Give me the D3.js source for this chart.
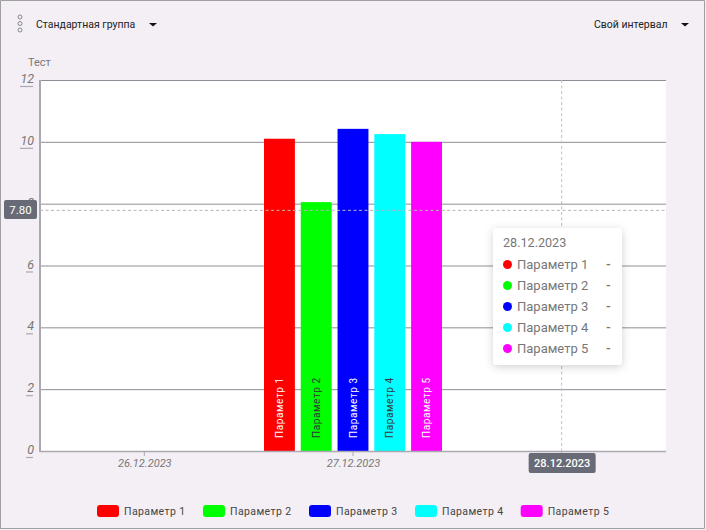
<!DOCTYPE html>
<html>
<head>
<meta charset="utf-8">
<script src="https://d3js.org/d3.v7.min.js"></script>
<style>
  html, body { margin: 0; padding: 0; background: #fff; overflow: hidden; }
  svg { display: block; }
  text { font-family: Roboto, sans-serif; }
</style>
</head>
<body>
<svg id="chart" width="706" height="530"></svg>
<script>
const dates = ['26.12.2023', '27.12.2023', '28.12.2023']
const params = ['Параметр 1', 'Параметр 2', 'Параметр 3', 'Параметр 4', 'Параметр 5']
const colors = ['#ff0000', '#00ff00', '#0000ff', '#00ffff', '#ff00ff']
const labelColors = ['#fff', '#333', '#fff', '#333', '#fff']
const barDate = '27.12.2023'
const barValues = [10.1, 8.05, 10.42, 10.25, 10.0]
const yTicks = [0, 2, 4, 6, 8, 10, 12]
const cursorValue = 7.8
const cursorDate = '28.12.2023'

const svg = d3.select('#chart')
const plotLeft = 40, plotRight = 666, plotTop = 80, plotBottom = 451

const x = d3.scaleBand().domain(dates).range([plotLeft, plotRight])
const inner = d3.scaleBand().domain(params).range([-89, 89]).paddingInner(0.16)
const y = d3.scaleLinear().domain([0, 12]).range([plotBottom, plotTop])

// фон
svg.append('rect').attr('width', 706).attr('height', 530).attr('fill', '#f3eff5')
svg.append('path')
  .attr('d', 'M0.5,529V0.5H704.5V528.5H0.5')
  .attr('fill', 'none').attr('stroke', '#a0a0a0').attr('stroke-width', 1)
svg.append('rect')
  .attr('x', plotLeft).attr('y', plotTop).attr('width', plotRight - plotLeft).attr('height', plotBottom - plotTop)
  .attr('fill', '#fff')

// шапка
svg.append('g').selectAll('circle').data([0, 1, 2]).join('circle')
  .attr('cx', 20).attr('cy', (d) => 17 + d * 6.5).attr('r', 2)
  .attr('fill', 'none').attr('stroke', '#888').attr('stroke-width', 1)
svg.append('text').attr('x', 36).attr('y', 28).attr('font-size', 10.5).attr('fill', '#222').text('Стандартная группа')
svg.append('path').attr('d', 'M149,23h8l-4,3.5z').attr('fill', '#111')
svg.append('text').attr('x', 594).attr('y', 28).attr('font-size', 10.5).attr('fill', '#222').text('Свой интервал')
svg.append('path').attr('d', 'M681,23h8l-4,3.5z').attr('fill', '#111')
svg.append('text').attr('x', 28).attr('y', 66).attr('font-size', 11).attr('fill', '#777').text('Тест')

// сетка
svg.append('g').selectAll('line').data(yTicks.filter((d) => d > 0)).join('line')
  .attr('x1', plotLeft).attr('x2', plotRight)
  .attr('y1', (d) => y(d) + 0.5).attr('y2', (d) => y(d) + 0.5)
  .attr('stroke', '#8f8d96').attr('stroke-width', 1)

// столбцы
const group = svg.append('g').attr('transform', `translate(${x(barDate) + x.bandwidth() / 2},0)`)
group.selectAll('rect').data(barValues).join('rect')
  .attr('x', (d, i) => inner(params[i]))
  .attr('y', (d) => y(d))
  .attr('width', inner.bandwidth())
  .attr('height', (d) => y(0) - y(d))
  .attr('fill', (d, i) => colors[i])
group.selectAll('text').data(barValues).join('text')
  .attr('transform', (d, i) => `translate(${inner(params[i]) + inner.bandwidth() / 2 + 3.5},${plotBottom - 13}) rotate(-90)`)
  .attr('font-size', 10).attr('letter-spacing', 0.6)
  .attr('fill', (d, i) => labelColors[i])
  .text((d, i) => params[i])

// оси
const yAxis = svg.append('g').attr('transform', `translate(${plotLeft},0)`)
yAxis.append('line').attr('y1', plotTop).attr('y2', plotBottom + 1).attr('stroke', '#aaa8b0').attr('stroke-width', 2)
const yTick = yAxis.selectAll('g').data(yTicks).join('g').attr('transform', (d) => `translate(0,${y(d)})`)
// черта под подписью - по ширине текста
yTick.append('line').attr('x1', (d) => (d >= 10 ? -20 : -14)).attr('x2', -7).attr('y1', 6.5).attr('y2', 6.5)
  .attr('stroke', '#aaa8b0').attr('stroke-width', 1.2)
yTick.append('text').attr('x', -6).attr('y', 3).attr('text-anchor', 'end')
  .attr('font-size', 12.5).attr('font-style', 'italic').attr('fill', '#777').text((d) => d)

const xAxis = svg.append('g')
xAxis.append('line').attr('x1', plotLeft).attr('x2', plotRight).attr('y1', plotBottom + 0.5).attr('y2', plotBottom + 0.5)
  .attr('stroke', '#aaa8b0').attr('stroke-width', 1.5)
const xTick = xAxis.selectAll('g').data(dates).join('g')
  .attr('transform', (d) => `translate(${x(d) + x.bandwidth() / 2},0)`)
xTick.append('line').attr('y1', plotBottom).attr('y2', plotBottom + 5).attr('stroke', '#aaa8b0')
xTick.append('text').attr('x', 0.5).attr('y', plotBottom + 16).attr('text-anchor', 'middle')
  .attr('font-size', 11).attr('font-style', 'italic').attr('fill', '#777').text((d) => d)

// перекрестие
const cx = x(cursorDate) + x.bandwidth() / 2
svg.append('line').attr('x1', plotLeft).attr('x2', plotRight).attr('y1', y(cursorValue) + 0.5).attr('y2', y(cursorValue) + 0.5)
  .attr('stroke', '#b5b5b5').attr('stroke-dasharray', '3 2.5')
svg.append('line').attr('x1', cx).attr('x2', cx).attr('y1', plotTop).attr('y2', plotBottom)
  .attr('stroke', '#c0c0c0').attr('stroke-dasharray', '3 2.5')

svg.append('rect').attr('x', 4).attr('y', 200).attr('width', 33).attr('height', 19).attr('rx', 2).attr('fill', '#686b75')
svg.append('text').attr('x', 20.5).attr('y', 214).attr('text-anchor', 'middle').attr('font-size', 11.5).attr('fill', '#fff').text(cursorValue.toFixed(2))
svg.append('rect').attr('x', cx - 33).attr('y', 453).attr('width', 67).attr('height', 20).attr('rx', 2).attr('fill', '#686b75')
svg.append('text').attr('x', cx + 0.5).attr('y', 467).attr('text-anchor', 'middle').attr('font-size', 11).attr('font-weight', 500).attr('fill', '#fff').text(cursorDate)

// подсказка
const defs = svg.append('defs')
const blur = defs.append('filter').attr('id', 'shadow').attr('x', '-20%').attr('y', '-20%').attr('width', '140%').attr('height', '140%')
blur.append('feDropShadow').attr('dx', 0).attr('dy', 2).attr('stdDeviation', 4).attr('flood-color', '#000').attr('flood-opacity', 0.18)
svg.append('rect').attr('x', 493).attr('y', 228).attr('width', 129).attr('height', 137).attr('rx', 4)
  .attr('fill', '#fff').attr('filter', 'url(#shadow)')
svg.append('text').attr('x', 503).attr('y', 247).attr('font-size', 12.6).attr('font-family', 'Inter, sans-serif').attr('fill', '#777').text(cursorDate)
const tipRow = svg.append('g').selectAll('g').data(params).join('g')
  .attr('transform', (d, i) => `translate(0,${264.5 + i * 21})`)
tipRow.append('circle').attr('cx', 507.5).attr('r', 4.5).attr('fill', (d, i) => colors[i])
tipRow.append('text').attr('x', 517).attr('y', 4.5).attr('font-size', 13).attr('font-family', 'Inter, sans-serif').attr('fill', '#777').text((d) => d)
tipRow.append('text').attr('x', 606).attr('y', 4.5).attr('font-size', 13).attr('font-weight', 600).attr('font-family', 'Inter, sans-serif').attr('fill', '#777').text('-')

// легенда
const legendX = [97, 203, 309, 415, 520.7]
const legend = svg.append('g').selectAll('g').data(params).join('g')
  .attr('transform', (d, i) => `translate(${legendX[i]},505)`)
legend.append('rect').attr('width', 22).attr('height', 12).attr('rx', 3).attr('fill', (d, i) => colors[i])
legend.append('text').attr('x', 27).attr('y', 10).attr('font-size', 10.5).attr('letter-spacing', 0.4).attr('fill', '#444').text((d) => d)
</script>
</body>
</html>
